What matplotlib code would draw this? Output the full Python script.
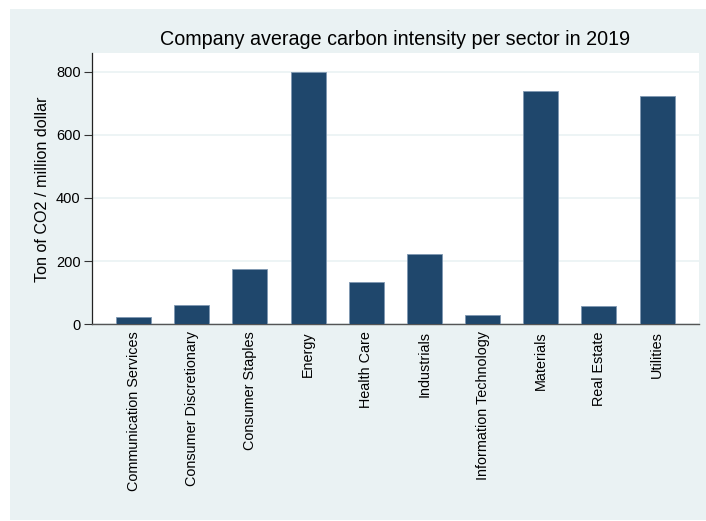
import numpy as np
import matplotlib.pyplot as plt
from matplotlib.patches import Rectangle

# sector averages (ton CO2 / million dollar)
sectors = ['Communication Services', 'Consumer Discretionary', 'Consumer Staples',
           'Energy', 'Health Care', 'Industrials', 'Information Technology',
           'Materials', 'Real Estate', 'Utilities']
intensity = [24, 62, 175, 800, 134, 222, 29, 740, 58, 723]
yticks = [0, 200, 400, 600, 800]

plt.rcParams['font.family'] = ['Liberation Sans', 'DejaVu Sans']

fig = plt.figure(figsize=(7.06, 5.21), dpi=100)
fig.patch.set_facecolor('white')
# stata style light background panel
fig.patches.append(Rectangle((10/706, 1/521), 696/706, 511/521, transform=fig.transFigure,
                             facecolor='#EAF2F3', edgecolor='none', zorder=-10))

ax = fig.add_axes([91.7/706, 1-324.3/521, (699-91.7)/706, (324.3-53.3)/521])
ax.set_facecolor('white')

x = np.arange(len(sectors))
ax.bar(x, intensity, width=0.6, color='#1F476C', edgecolor='#7f98b2', linewidth=0.6, zorder=3)

ax.set_xlim(-0.72, len(sectors) - 0.28)
ax.set_ylim(0, 858)
ax.set_yticks(yticks)
ax.yaxis.grid(True, color='#EAF2F3', linewidth=1.2, zorder=0)
ax.set_xticks(x)
ax.set_xticklabels(sectors, rotation=90, fontsize=10.4)
ax.tick_params(axis='x', length=0, pad=5)
ax.tick_params(axis='y', length=6, width=0.8, pad=2, labelsize=10.5, color='#333333')

for s in ['top', 'right']:
    ax.spines[s].set_visible(False)
ax.spines['left'].set_color('#222222')
ax.spines['left'].set_linewidth(0.9)
ax.spines['bottom'].set_color('#555555')
ax.spines['bottom'].set_linewidth(1.0)

ax.set_ylabel('Ton of CO2 / million dollar', fontsize=11.6, labelpad=4)
ax.set_title('Company average carbon intensity per sector in 2019', fontsize=14.2, pad=6)

fig.savefig('out.png', dpi=100, facecolor=fig.get_facecolor())
